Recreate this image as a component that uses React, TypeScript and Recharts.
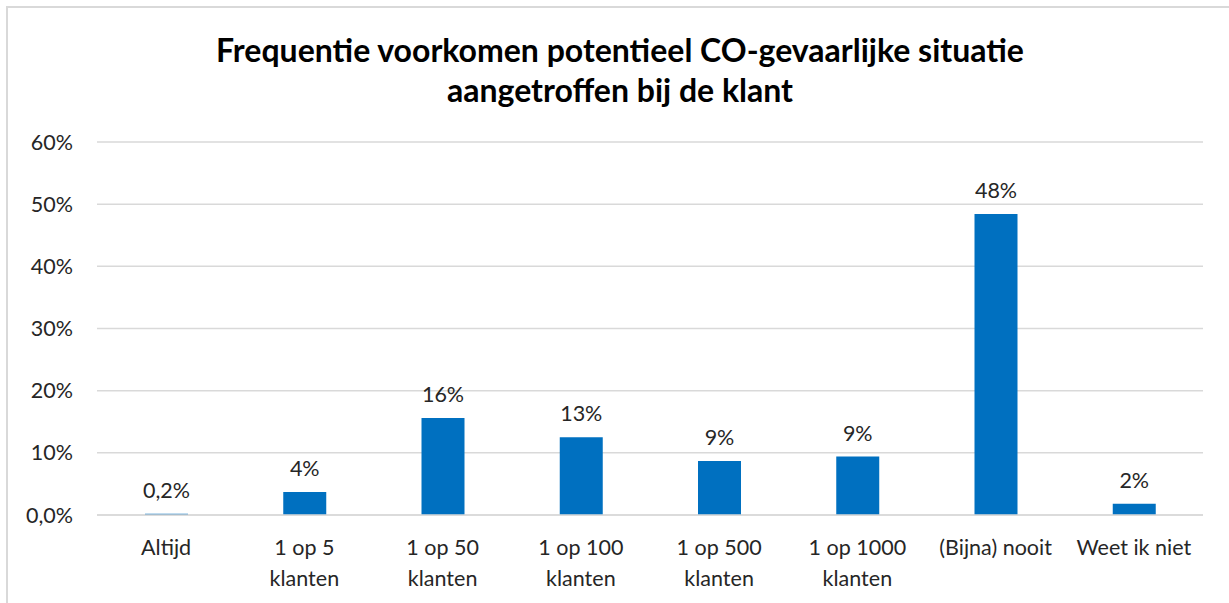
import React from "react";
import {
  Bar,
  BarChart,
  CartesianGrid,
  LabelList,
  XAxis,
  YAxis,
} from "recharts";

const categories = [
  "Altijd",
  "1 op 5 klanten",
  "1 op 50 klanten",
  "1 op 100 klanten",
  "1 op 500 klanten",
  "1 op 1000 klanten",
  "(Bijna) nooit",
  "Weet ik niet",
];
const shares = [0.2, 3.7, 15.6, 12.5, 8.7, 9.4, 48.4, 1.8];
const yTicks = [0, 10, 20, 30, 40, 50, 60];

const data = categories.map((name, i) => ({ name, value: shares[i] }));

const FONT = "Lato, 'Noto Sans', sans-serif";
const TEXT = "#262626";

const formatLabel = (v: number) =>
  v < 1 ? `${v.toFixed(1).replace(".", ",")}%` : `${Math.round(v)}%`;

const formatTick = (v: number) => (v === 0 ? "0,0%" : `${v}%`);

const CategoryTick = (props: any) => {
  const { x, y, payload } = props;
  const label: string = payload.value;
  const lines = label.endsWith(" klanten")
    ? [label.replace(" klanten", ""), "klanten"]
    : [label];
  return (
    <text
      x={x}
      y={y}
      textAnchor="middle"
      fill={TEXT}
      fontSize={21.5}
      fontFamily={FONT}
    >
      {lines.map((l, i) => (
        <tspan key={i} x={x} dy={i === 0 ? 38 : 31}>
          {l}
        </tspan>
      ))}
    </text>
  );
};

export default function App() {
  return (
    <div
      style={{
        position: "absolute",
        left: 0,
        top: 0,
        width: 1229,
        height: 603,
        background: "#fff",
        overflow: "hidden",
      }}
    >
      <div
        style={{
          position: "absolute",
          left: 6,
          top: 6,
          width: 1240,
          height: 620,
          borderTop: "2px solid #d9d9d9",
          borderLeft: "2px solid #d9d9d9",
        }}
      />
      <div
        style={{
          position: "absolute",
          left: 0,
          top: 30,
          width: 1240,
          textAlign: "center",
          fontFamily: FONT,
          fontWeight: 700,
          fontSize: 32,
          lineHeight: "40px",
          color: "#000",
        }}
      >
        Frequentie voorkomen potentieel CO-gevaarlijke situatie
        <br />
        aangetroffen bij de klant
      </div>
      <div style={{ position: "absolute", left: 0, top: 0 }}>
        <BarChart
          width={1229}
          height={603}
          data={data}
          margin={{ top: 142, right: 26, bottom: 8, left: 0 }}
        >
          <CartesianGrid
            vertical={false}
            stroke="#d9d9d9"
            strokeWidth={1.5}
          />
          <XAxis
            dataKey="name"
            axisLine={{ stroke: "#d9d9d9", strokeWidth: 1.5 }}
            tickLine={false}
            tickSize={0}
            height={80}
            interval={0}
            tick={<CategoryTick />}
          />
          <YAxis
            width={97}
            domain={[0, 60]}
            ticks={yTicks}
            axisLine={false}
            tickLine={false}
            tickSize={6}
            tickMargin={18}
            tickFormatter={formatTick}
            tick={{ fill: TEXT, fontSize: 21.5, fontFamily: FONT }}
          />
          <Bar
            dataKey="value"
            fill="#0070C0"
            barSize={43}
            isAnimationActive={false}
          >
            <LabelList
              dataKey="value"
              position="top"
              offset={16}
              formatter={(v: any) => formatLabel(Number(v))}
              fill={TEXT}
              fontSize={21.5}
              fontFamily={FONT}
            />
          </Bar>
        </BarChart>
      </div>
    </div>
  );
}
